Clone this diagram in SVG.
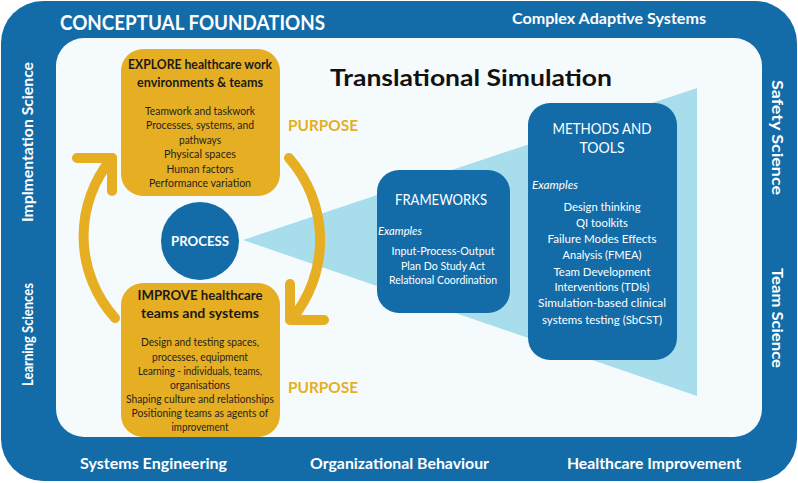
<svg xmlns="http://www.w3.org/2000/svg" width="798" height="483" viewBox="0 0 798 483">
<defs>
<style>
.frame{fill:#136CA8}
.panel{fill:#F5FBFC}
.gold{fill:#E6AE22}
.blue{fill:#136CA8}
.cone{fill:#A8DDEC}
.arc{fill:none;stroke:#E6AE22;stroke-width:10;stroke-linecap:round;stroke-linejoin:round}
.cat{font-family:Lato,"Open Sans","Liberation Sans",sans-serif;font-weight:700;fill:#FFFFFF;font-size:14.5px}
.hd{font-family:Lato,"Open Sans","Liberation Sans",sans-serif;font-weight:700;fill:#1A1A1A;font-size:13.5px;text-anchor:middle}
.li{font-family:Lato,"Open Sans","Liberation Sans",sans-serif;fill:#1F1F1F;font-size:12px;text-anchor:middle}
.wl{font-family:Lato,"Open Sans","Liberation Sans",sans-serif;fill:#FFFFFF;font-size:12px;text-anchor:middle}
.wh{font-family:Lato,"Open Sans","Liberation Sans",sans-serif;fill:#FFFFFF;font-size:14.5px;text-anchor:middle}
.ex{font-family:Lato,"Open Sans","Liberation Sans",sans-serif;fill:#FFFFFF;font-size:11.5px;font-style:italic}
.pp{font-family:Lato,"Open Sans","Liberation Sans",sans-serif;font-weight:700;fill:#E6AE22;font-size:15.5px}
.big{font-size:20px}
</style>
</defs>
<rect class="frame" x="1" y="1" width="796" height="480" rx="42"/>
<rect class="panel" x="56" y="38" width="706" height="399" rx="28"/>
<g id="labels">
<text class="cat big" x="60" y="30" textLength="265" lengthAdjust="spacingAndGlyphs">CONCEPTUAL FOUNDATIONS</text>
<text class="cat" x="512" y="24" textLength="194" lengthAdjust="spacingAndGlyphs">Complex Adaptive Systems</text>
<text class="cat" x="80" y="469" textLength="147" lengthAdjust="spacingAndGlyphs">Systems Engineering</text>
<text class="cat" x="310" y="469" textLength="179" lengthAdjust="spacingAndGlyphs">Organizational Behaviour</text>
<text class="cat" x="567" y="469" textLength="174" lengthAdjust="spacingAndGlyphs">Healthcare Improvement</text>
<text class="cat" transform="translate(33,222) rotate(-90)" textLength="160" lengthAdjust="spacingAndGlyphs">Implmentation Science</text>
<text class="cat" transform="translate(33,386) rotate(-90)" textLength="103" lengthAdjust="spacingAndGlyphs">Learning Sciences</text>
<text class="cat" transform="translate(772,80) rotate(90)" textLength="115" lengthAdjust="spacingAndGlyphs">Safety Science</text>
<text class="cat" transform="translate(772,268) rotate(90)" textLength="100" lengthAdjust="spacingAndGlyphs">Team Science</text>
<text x="471" y="86" font-family="Lato,'Open Sans','Liberation Sans',sans-serif" font-weight="700" font-size="23" fill="#111111" text-anchor="middle" textLength="282" lengthAdjust="spacingAndGlyphs">Translational Simulation</text>
<text class="pp" x="288" y="131" textLength="70" lengthAdjust="spacingAndGlyphs">PURPOSE</text>
<text class="pp" x="288" y="393" textLength="70" lengthAdjust="spacingAndGlyphs">PURPOSE</text>
</g>
<polygon class="cone" points="243,240 697,88 697,396"/>
<g id="connectors">
<path class="arc" d="M115,318 A122,122 0 0 1 112,158"/>
<polyline class="arc" points="77,158 112,158 112,191"/>
<path class="arc" d="M289,158 A124,124 0 0 1 291,320"/>
<polyline class="arc" points="290,284 290,320 324,320"/>
</g>
<g id="explore">
<rect class="gold" x="121" y="49" width="159" height="147" rx="22"/>
<text class="hd" x="200" y="69" textLength="144" lengthAdjust="spacingAndGlyphs">EXPLORE healthcare work</text>
<text class="hd" x="200" y="87" textLength="126" lengthAdjust="spacingAndGlyphs">environments &amp; teams</text>
<text class="li" x="200" y="115" textLength="110" lengthAdjust="spacingAndGlyphs">Teamwork and taskwork</text>
<text class="li" x="200" y="129" textLength="108" lengthAdjust="spacingAndGlyphs">Processes, systems, and</text>
<text class="li" x="200" y="144" textLength="42" lengthAdjust="spacingAndGlyphs">pathways</text>
<text class="li" x="200" y="158" textLength="72" lengthAdjust="spacingAndGlyphs">Physical spaces</text>
<text class="li" x="200" y="173" textLength="67" lengthAdjust="spacingAndGlyphs">Human factors</text>
<text class="li" x="200" y="187" textLength="102" lengthAdjust="spacingAndGlyphs">Performance variation</text>
</g>
<g id="improve">
<rect class="gold" x="121" y="283" width="159" height="154" rx="22"/>
<text class="hd" x="200" y="300" textLength="125" lengthAdjust="spacingAndGlyphs">IMPROVE healthcare</text>
<text class="hd" x="200" y="318" textLength="118" lengthAdjust="spacingAndGlyphs">teams and systems</text>
<text class="li" x="200" y="346" textLength="118" lengthAdjust="spacingAndGlyphs">Design and testing spaces,</text>
<text class="li" x="200" y="361" textLength="96" lengthAdjust="spacingAndGlyphs">processes, equipment</text>
<text class="li" x="200" y="375" textLength="124" lengthAdjust="spacingAndGlyphs">Learning - individuals, teams,</text>
<text class="li" x="200" y="389" textLength="60" lengthAdjust="spacingAndGlyphs">organisations</text>
<text class="li" x="200" y="403" textLength="148" lengthAdjust="spacingAndGlyphs">Shaping culture and relationships</text>
<text class="li" x="200" y="417" textLength="137" lengthAdjust="spacingAndGlyphs">Positioning teams as agents of</text>
<text class="li" x="200" y="431" textLength="57" lengthAdjust="spacingAndGlyphs">improvement</text>
</g>
<g id="process">
<circle class="blue" cx="200" cy="241" r="39"/>
<text x="200" y="245.5" font-family="Lato,'Open Sans','Liberation Sans',sans-serif" font-weight="700" font-size="13" fill="#FFFFFF" text-anchor="middle" textLength="58" lengthAdjust="spacingAndGlyphs">PROCESS</text>
</g>
<g id="frameworks">
<rect class="blue" x="377" y="170" width="133" height="143" rx="22"/>
<text class="wh" x="441" y="205" textLength="92" lengthAdjust="spacingAndGlyphs">FRAMEWORKS</text>
<text class="ex" x="378" y="235" textLength="44" lengthAdjust="spacingAndGlyphs">Examples</text>
<text class="wl" x="443" y="255" textLength="103" lengthAdjust="spacingAndGlyphs">Input-Process-Output</text>
<text class="wl" x="443" y="270" textLength="84" lengthAdjust="spacingAndGlyphs">Plan Do Study Act</text>
<text class="wl" x="443" y="284" textLength="108" lengthAdjust="spacingAndGlyphs">Relational Coordination</text>
</g>
<g id="methods">
<rect class="blue" x="528" y="103" width="149" height="257" rx="22"/>
<text class="wh" x="602" y="134" textLength="99" lengthAdjust="spacingAndGlyphs">METHODS AND</text>
<text class="wh" x="602" y="153" textLength="45" lengthAdjust="spacingAndGlyphs">TOOLS</text>
<text class="ex" x="532" y="189" textLength="46" lengthAdjust="spacingAndGlyphs">Examples</text>
<text class="wl" x="602" y="211" textLength="77" lengthAdjust="spacingAndGlyphs">Design thinking</text>
<text class="wl" x="602" y="227" textLength="52" lengthAdjust="spacingAndGlyphs">QI toolkits</text>
<text class="wl" x="602" y="243" textLength="109" lengthAdjust="spacingAndGlyphs">Failure Modes Effects</text>
<text class="wl" x="602" y="259" textLength="79" lengthAdjust="spacingAndGlyphs">Analysis (FMEA)</text>
<text class="wl" x="602" y="276" textLength="97" lengthAdjust="spacingAndGlyphs">Team Development</text>
<text class="wl" x="602" y="291" textLength="95" lengthAdjust="spacingAndGlyphs">Interventions (TDIs)</text>
<text class="wl" x="602" y="307" textLength="128" lengthAdjust="spacingAndGlyphs">Simulation-based clinical</text>
<text class="wl" x="602" y="324" textLength="120" lengthAdjust="spacingAndGlyphs">systems testing (SbCST)</text>
</g>
</svg>
